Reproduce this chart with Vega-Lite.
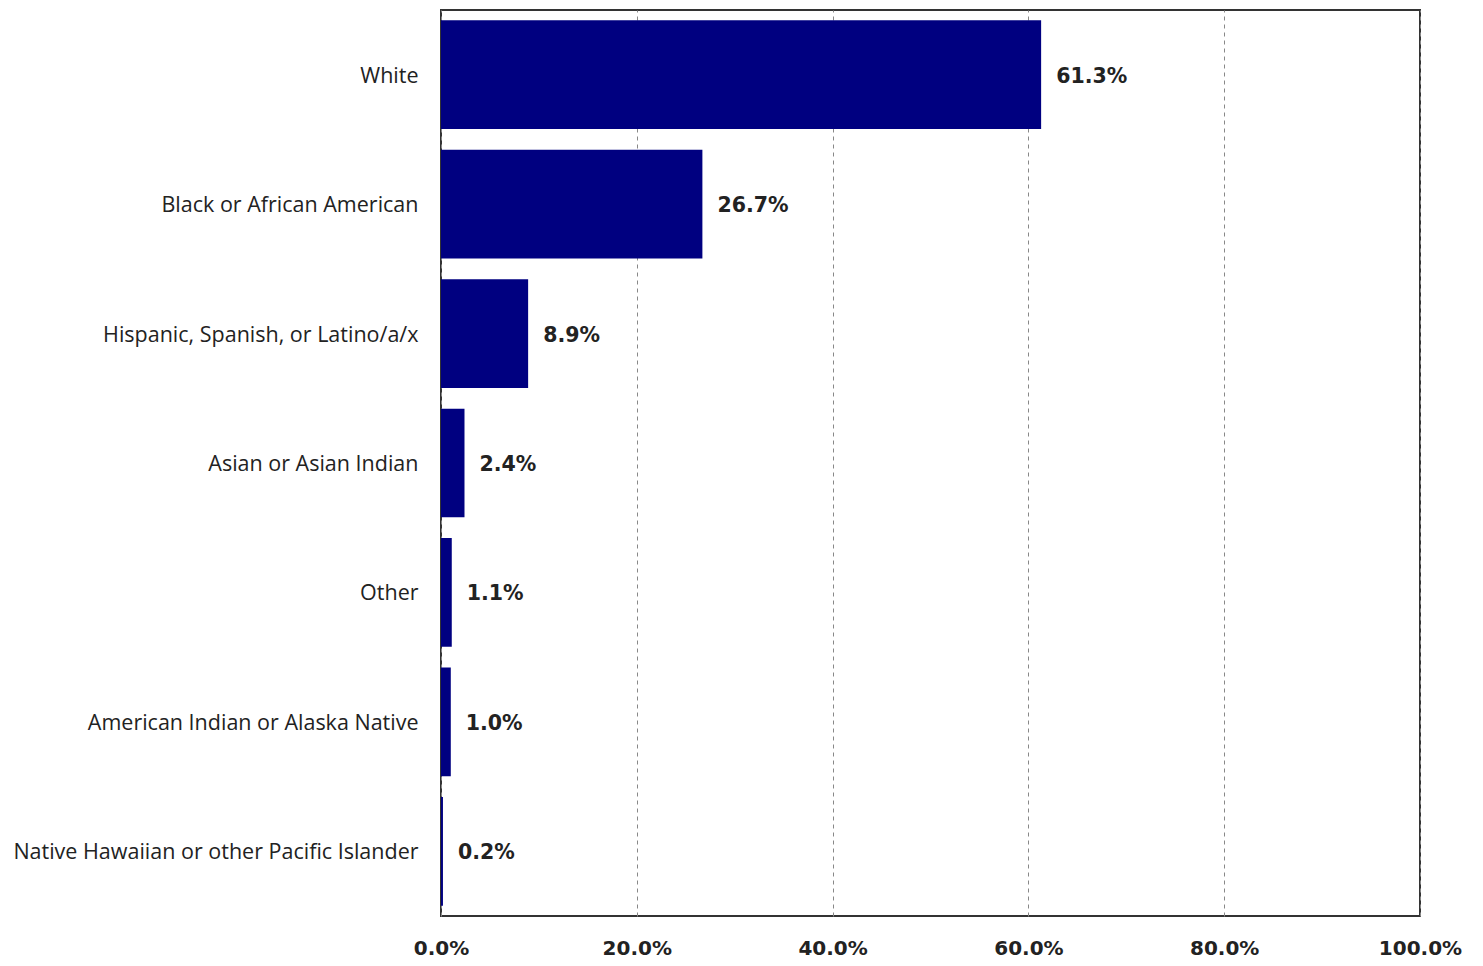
{
  "$schema": "https://vega.github.io/schema/vega-lite/v6.json",
  "width": 979,
  "height": 906,
  "autosize": "none",
  "padding": {"left": 441, "top": 10, "right": 63, "bottom": 50},
  "background": "white",
  "config": {
    "view": {"stroke": "#333333", "strokeWidth": 2},
    "font": "Open Sans"
  },
  "data": {
    "values": [
      {"group": "White", "pct": 61.3, "label": "61.3%"},
      {"group": "Black or African American", "pct": 26.7, "label": "26.7%"},
      {"group": "Hispanic, Spanish, or Latino/a/x", "pct": 8.9, "label": "8.9%"},
      {"group": "Asian or Asian Indian", "pct": 2.4, "label": "2.4%"},
      {"group": "Other", "pct": 1.1, "label": "1.1%"},
      {"group": "American Indian or Alaska Native", "pct": 1.0, "label": "1.0%"},
      {"group": "Native Hawaiian or other Pacific Islander", "pct": 0.2, "label": "0.2%"}
    ]
  },
  "encoding": {
    "y": {
      "field": "group", "type": "nominal", "sort": null,
      "scale": {"paddingInner": 0.16, "paddingOuter": 0.08},
      "axis": {"title": null, "ticks": false, "domain": false, "labelFontSize": 21.5, "labelColor": "#222222", "labelPadding": 23, "labelLimit": 440, "labelFont": "Open Sans", "labelOffset": 2}
    },
    "x": {
      "field": "pct", "type": "quantitative",
      "scale": {"domain": [0, 100], "nice": false},
      "axis": {"title": null, "values": [0, 20, 40, 60, 80, 100], "labelExpr": "format(datum.value, '.1f') + '%'", "ticks": false, "domain": false, "labelFont": "DejaVu Sans", "labelFontSize": 20, "labelFontWeight": "bold", "labelColor": "#222222", "labelPadding": 22, "gridColor": "#888888", "gridDash": [4, 4], "gridWidth": 1, "labelFlush": false}
    }
  },
  "layer": [
    {"mark": {"type": "bar", "color": "#000080"}},
    {"mark": {"type": "text", "align": "left", "dx": 15, "dy": 2, "font": "DejaVu Sans", "fontSize": 20.5, "fontWeight": "bold", "color": "#222222"}, "encoding": {"text": {"field": "label"}}}
  ]
}
